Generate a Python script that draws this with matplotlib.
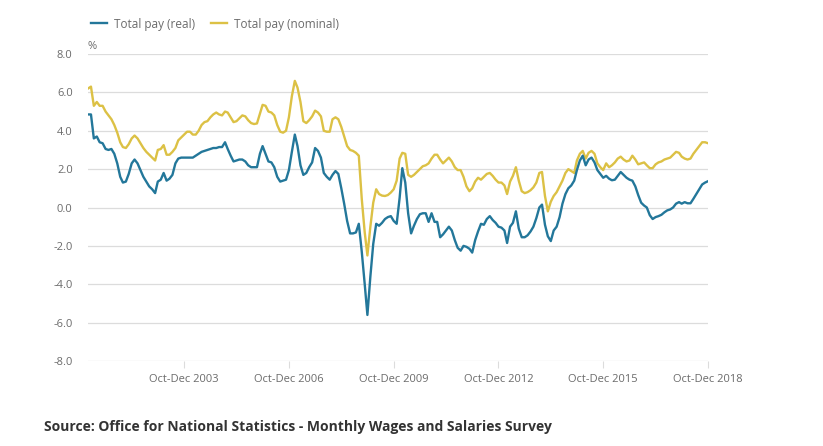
import numpy as np
import pandas as pd
import matplotlib
matplotlib.use("Agg")
import matplotlib.pyplot as plt

plt.rcParams['font.family'] = ['Open Sans', 'DejaVu Sans']
plt.rcParams['axes.unicode_minus'] = False

# 3-month average growth, % (periods Jan-Mar 2001 ... Oct-Dec 2018, one per month)
period_end = pd.date_range("2001-03-01", "2018-12-01", freq="MS")

real_pay = [
    4.85, 4.85, 3.6, 3.7, 3.4, 3.35, 3.05, 3.0, 3.05, 2.8,               # 2001
    2.3, 1.6, 1.3, 1.35, 1.75, 2.3, 2.5, 2.3, 1.95, 1.6, 1.35, 1.1,      # 2002
    0.95, 0.75, 1.35, 1.45, 1.8, 1.4, 1.5, 1.7, 2.3, 2.55, 2.6, 2.6,     # 2003
    2.6, 2.6, 2.6, 2.7, 2.8, 2.9, 2.95, 3.0, 3.05, 3.1, 3.1, 3.15,       # 2004
    3.15, 3.4, 3.05, 2.7, 2.4, 2.45, 2.5, 2.5, 2.4, 2.2, 2.1, 2.1,       # 2005
    2.1, 2.8, 3.2, 2.8, 2.4, 2.35, 2.1, 1.6, 1.35, 1.4, 1.45, 1.95,      # 2006
    2.9, 3.8, 3.2, 2.2, 1.7, 1.8, 2.1, 2.35, 3.1, 2.95, 2.6, 1.8,        # 2007
    1.6, 1.45, 1.7, 1.9, 1.75, 1.0, 0.2, -0.7, -1.35, -1.35, -1.3, -0.85,  # 2008
    -2.3, -4.0, -5.6, -3.6, -1.9, -0.85, -0.95, -0.8, -0.6, -0.5, -0.45, -0.7,  # 2009
    -0.85, 0.5, 2.05, 1.3, -0.3, -1.35, -0.95, -0.6, -0.35, -0.3, -0.3, -0.75,  # 2010
    -0.3, -0.75, -0.75, -1.55, -1.4, -1.2, -1.0, -1.2, -1.7, -2.1, -2.25, -2.0,  # 2011
    -2.05, -2.15, -2.35, -1.7, -1.25, -0.85, -0.9, -0.6, -0.45, -0.65, -0.8, -1.0,  # 2012
    -1.05, -1.2, -1.85, -1.0, -0.8, -0.2, -1.1, -1.55, -1.55, -1.45, -1.25, -1.0,  # 2013
    -0.55, 0.0, 0.15, -0.9, -1.5, -1.75, -1.2, -1.0, -0.5, 0.2, 0.7, 1.0,  # 2014
    1.15, 1.4, 1.95, 2.45, 2.7, 2.2, 2.5, 2.6, 2.35, 1.95, 1.75, 1.55,   # 2015
    1.65, 1.5, 1.42, 1.45, 1.65, 1.85, 1.7, 1.55, 1.45, 1.4, 1.1, 0.65,  # 2016
    0.25, 0.1, 0.0, -0.4, -0.6, -0.5, -0.45, -0.38, -0.25, -0.15, -0.1, 0.0,  # 2017
    0.2, 0.28, 0.2, 0.28, 0.22, 0.22, 0.45, 0.7, 0.95, 1.2, 1.3, 1.37,   # 2018
]

nominal_pay = [
    6.2, 6.3, 5.3, 5.5, 5.3, 5.3, 5.0, 4.8, 4.6, 4.3,                    # 2001
    3.9, 3.4, 3.15, 3.1, 3.3, 3.6, 3.75, 3.6, 3.35, 3.1, 2.9, 2.75,      # 2002
    2.6, 2.45, 3.0, 3.05, 3.25, 2.75, 2.75, 2.9, 3.1, 3.5, 3.65, 3.8,    # 2003
    3.95, 3.95, 3.8, 3.8, 4.0, 4.3, 4.45, 4.5, 4.7, 4.85, 4.95, 4.85,    # 2004
    4.8, 5.0, 4.95, 4.7, 4.45, 4.5, 4.65, 4.8, 4.75, 4.55, 4.4, 4.35,    # 2005
    4.38, 4.9, 5.35, 5.3, 5.0, 4.95, 4.8, 4.3, 3.95, 3.9, 4.0, 4.7,      # 2006
    5.8, 6.6, 6.25, 5.5, 4.5, 4.4, 4.55, 4.75, 5.05, 4.95, 4.75, 4.0,    # 2007
    3.95, 3.95, 4.6, 4.7, 4.6, 4.2, 3.7, 3.2, 3.0, 2.95, 2.85, 2.7,      # 2008
    0.45, -1.3, -2.5, -1.0, 0.25, 0.95, 0.7, 0.62, 0.6, 0.65, 0.78, 0.95,  # 2009
    1.4, 2.55, 2.85, 2.8, 1.7, 1.6, 1.7, 1.85, 2.0, 2.15, 2.2, 2.3,      # 2010
    2.55, 2.75, 2.75, 2.5, 2.3, 2.45, 2.6, 2.4, 2.1, 1.95, 1.95, 1.6,    # 2011
    1.1, 0.85, 1.0, 1.35, 1.55, 1.45, 1.6, 1.75, 1.8, 1.65, 1.45, 1.3,   # 2012
    1.3, 1.15, 0.7, 1.35, 1.65, 2.1, 1.4, 0.85, 0.75, 0.8, 0.9, 1.05,    # 2013
    1.3, 1.8, 1.85, 0.6, -0.2, 0.3, 0.6, 0.8, 1.1, 1.4, 1.8, 2.0,        # 2014
    1.9, 1.8, 2.45, 2.8, 2.95, 2.55, 2.85, 2.95, 2.8, 2.3, 2.1, 1.95,    # 2015
    2.3, 2.1, 2.2, 2.35, 2.55, 2.65, 2.5, 2.4, 2.45, 2.7, 2.5, 2.25,     # 2016
    2.3, 2.35, 2.2, 2.05, 2.05, 2.25, 2.35, 2.4, 2.5, 2.55, 2.6, 2.75,   # 2017
    2.9, 2.85, 2.65, 2.55, 2.5, 2.55, 2.8, 3.0, 3.2, 3.4, 3.4, 3.35,     # 2018
]

tick_years = [2003, 2006, 2009, 2012, 2015, 2018]
tick_labels = [f"Oct-Dec {y}" for y in tick_years]
y_ticks = np.arange(-8, 9, 2)

blue = '#23779a'
yellow = '#dcc145'
grid_col = '#dcdcdc'
text_col = '#6b6b6b'

dpi = 100
fig = plt.figure(figsize=(823 / dpi, 446 / dpi), dpi=dpi)
ax = fig.add_axes([88 / 823, 1 - 361 / 446, 620 / 823, 307 / 446])

ax.plot(period_end, real_pay, color=blue, lw=1.7, label='Total pay (real)', zorder=3)
ax.plot(period_end, nominal_pay, color=yellow, lw=1.7, label='Total pay (nominal)', zorder=2)

ax.set_xlim(period_end[0], period_end[-1])
ax.set_ylim(-8, 8)
ax.set_yticks(y_ticks)
ax.set_yticklabels([f"{v:.1f}" for v in y_ticks])
ax.yaxis.grid(True, color=grid_col, lw=0.9)
ax.set_axisbelow(True)
for s in ax.spines.values():
    s.set_visible(False)

ax.set_xticks([pd.Timestamp(f"{y}-12-01") for y in tick_years])
ax.set_xticklabels(tick_labels)
ax.tick_params(axis='x', length=5, width=0.8, color=grid_col, labelsize=8,
               labelcolor=text_col, pad=4)
ax.tick_params(axis='y', length=0, labelsize=8, labelcolor=text_col, pad=11)

ax.text(0, 1.008, '%', transform=ax.transAxes, fontsize=8, color=text_col,
        ha='left', va='bottom')

fig.legend(loc='upper left', bbox_to_anchor=(80 / 823, 1 - 7 / 446), ncol=2,
           frameon=False, fontsize=8.5, handlelength=1.4, handletextpad=0.6,
           columnspacing=1.3, labelcolor=text_col)

fig.text(44 / 823, 1 - 427 / 446, 'Source: Office for National Statistics - Monthly Wages and Salaries Survey',
         fontsize=10, fontweight='bold', color='#333333', ha='left', va='center')

fig.savefig('out.png', dpi=dpi)
